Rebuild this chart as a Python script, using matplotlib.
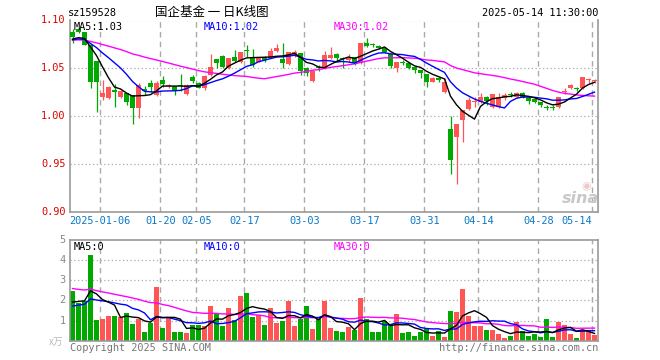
import numpy as np
import pandas as pd
import matplotlib
matplotlib.use("Agg")
import matplotlib.pyplot as plt

# ---------------- data ----------------
opens = [1.0876, 1.0907, 1.0876, 1.0743, 1.0576, 1.0204, 1.0193, 1.0273, 1.0204, 1.0239,
         1.0221, 1.0082, 1.0284, 1.0343, 1.0221, 1.0378, 1.0312, 1.0315, 1.0318, 1.0232,
         1.0406, 1.0343, 1.0294, 1.0430, 1.0597, 1.0632, 1.0500, 1.0615, 1.0569, 1.0685,
         1.0621, 1.0569, 1.0621, 1.0611, 1.0681, 1.0594, 1.0542, 1.0639, 1.0657, 1.0506,
         1.0367, 1.0510, 1.0500, 1.0604, 1.0646, 1.0607, 1.0587, 1.0615, 1.0552, 1.0761,
         1.0746, 1.0736, 1.0715, 1.0646, 1.0506, 1.0566, 1.0552, 1.0517, 1.0482, 1.0437,
         1.0360, 1.0402, 1.0256, 0.9866, 0.9786, 0.9960, 1.0072, 1.0150, 1.0151, 1.0204,
         1.0099, 1.0099, 1.0193, 1.0232, 1.0204, 1.0239, 1.0193, 1.0176, 1.0145, 1.0092,
         1.0092, 1.0093, 1.0253, 1.0297, 1.0290, 1.0291, 1.0375, 1.0372]
closes = [1.0830, 1.0876, 1.0743, 1.0360, 1.0360, 1.0239, 1.0308, 1.0256, 1.0263, 1.0145,
          1.0082, 1.0326, 1.0266, 1.0308, 1.0343, 1.0333, 1.0326, 1.0266, 1.0312, 1.0326,
          1.0367, 1.0300, 1.0420, 1.0517, 1.0558, 1.0517, 1.0604, 1.0579, 1.0667, 1.0678,
          1.0534, 1.0615, 1.0587, 1.0681, 1.0715, 1.0552, 1.0667, 1.0673, 1.0472, 1.0448,
          1.0475, 1.0503, 1.0639, 1.0639, 1.0604, 1.0601, 1.0611, 1.0558, 1.0761, 1.0736,
          1.0740, 1.0709, 1.0673, 1.0527, 1.0563, 1.0560, 1.0500, 1.0482, 1.0448, 1.0360,
          1.0402, 1.0378, 1.0360, 0.9543, 0.9915, 1.0065, 1.0169, 1.0160, 1.0204, 1.0159,
          1.0229, 1.0204, 1.0221, 1.0226, 1.0239, 1.0193, 1.0162, 1.0145, 1.0117, 1.0086,
          1.0086, 1.0197, 1.0259, 1.0326, 1.0284, 1.0406, 1.0381, 1.0378]
highs = [1.0907, 1.0925, 1.0880, 1.0750, 1.0580, 1.0378, 1.0315, 1.0333, 1.0270, 1.0245,
         1.0225, 1.0343, 1.0318, 1.0378, 1.0367, 1.0423, 1.0333, 1.0320, 1.0437, 1.0333,
         1.0430, 1.0360, 1.0430, 1.0646, 1.0600, 1.0635, 1.0610, 1.0691, 1.0672, 1.0743,
         1.0701, 1.0620, 1.0625, 1.0709, 1.0751, 1.0761, 1.0672, 1.0691, 1.0662, 1.0517,
         1.0480, 1.0534, 1.0681, 1.0725, 1.0657, 1.0621, 1.0646, 1.0620, 1.0765, 1.0813,
         1.0761, 1.0743, 1.0725, 1.0650, 1.0567, 1.0587, 1.0556, 1.0520, 1.0486, 1.0440,
         1.0406, 1.0406, 1.0396, 1.0002, 0.9920, 1.0070, 1.0204, 1.0204, 1.0239, 1.0210,
         1.0235, 1.0240, 1.0239, 1.0250, 1.0250, 1.0250, 1.0197, 1.0187, 1.0150, 1.0117,
         1.0117, 1.0204, 1.0291, 1.0336, 1.0308, 1.0410, 1.0402, 1.0388]
lows = [1.0760, 1.0870, 1.0740, 1.0291, 1.0047, 1.0169, 1.0185, 1.0099, 1.0195, 1.0117,
        0.9915, 0.9978, 1.0221, 1.0256, 1.0214, 1.0308, 1.0291, 1.0221, 1.0266, 1.0225,
        1.0343, 1.0291, 1.0273, 1.0423, 1.0500, 1.0500, 1.0495, 1.0569, 1.0560, 1.0621,
        1.0517, 1.0563, 1.0569, 1.0604, 1.0673, 1.0500, 1.0538, 1.0621, 1.0430, 1.0423,
        1.0360, 1.0472, 1.0490, 1.0597, 1.0569, 1.0500, 1.0569, 1.0534, 1.0548, 1.0725,
        1.0725, 1.0701, 1.0657, 1.0500, 1.0465, 1.0534, 1.0490, 1.0448, 1.0402, 1.0308,
        1.0356, 1.0354, 1.0245, 0.9397, 0.9292, 0.9734, 1.0065, 1.0099, 1.0135, 1.0117,
        1.0082, 1.0090, 1.0166, 1.0204, 1.0195, 1.0187, 1.0124, 1.0135, 1.0099, 1.0065,
        1.0065, 1.0082, 1.0229, 1.0284, 1.0263, 1.0281, 1.0343, 1.0343]
volumes = [2.48, 1.87, 1.95, 4.28, 1.03, 1.08, 1.23, 1.23, 1.20, 1.38,
           0.83, 1.08, 0.43, 0.88, 2.68, 0.63, 1.17, 0.43, 0.43, 0.38,
           0.78, 0.78, 0.73, 1.73, 1.38, 0.73, 1.63, 1.03, 2.23, 2.38,
           1.18, 1.28, 0.78, 1.63, 0.88, 0.98, 1.98, 0.73, 1.08, 1.73,
           0.58, 1.08, 1.98, 0.63, 0.48, 0.43, 0.68, 0.53, 2.13, 1.08,
           0.43, 0.43, 0.98, 0.83, 1.33, 0.38, 0.43, 0.23, 0.43, 0.58,
           0.23, 0.48, 0.18, 1.48, 1.43, 2.58, 1.23, 0.73, 0.73, 0.53,
           0.53, 0.33, 0.13, 0.23, 0.93, 0.48, 0.23, 0.33, 0.18, 1.08,
           0.18, 0.93, 0.78, 0.33, 0.13, 0.53, 0.53, 0.28]
# sessions before the visible window (only feed the moving averages)
prior_closes = [1.080, 1.079, 1.081, 1.078, 1.080, 1.079, 1.080, 1.078, 1.079, 1.080,
                1.079, 1.080, 1.078, 1.079, 1.080, 1.079, 1.078, 1.080, 1.079, 1.080,
                1.079, 1.080, 1.078, 1.079, 1.080, 1.080, 1.079, 1.080, 1.081]
prior_volumes = [3.1, 2.9, 3.0, 3.2, 3.0, 2.9, 3.1, 3.0, 3.1, 2.9,
                 3.0, 3.2, 3.0, 3.0, 3.1, 2.9, 3.0, 3.1, 3.0, 3.0,
                 1.4, 1.5, 1.6, 1.6, 1.5, 1.7, 1.8, 1.8, 1.8]
tick_idx = [5, 15, 21, 29, 39, 49, 59, 68, 78, 87]
tick_labels = ["2025-01-06", "01-20", "02-05", "02-17", "03-03",
               "03-17", "03-31", "04-14", "04-28", "05-14"]
price_ticks = [0.90, 0.95, 1.00, 1.05, 1.10]
vol_ticks = [1, 2, 3, 4, 5]

# ---------------- styling ----------------
W, H = 660, 360
RED = "#ff5555"
GREEN = "#00a800"
GRID = "#aaaaaa"
SPINE = "#999999"
BLUE_TXT = "#0a78c8"
MONO = "DejaVu Sans Mono"
CJK = ["Noto Sans CJK SC", "DejaVu Sans"]

fig = plt.figure(figsize=(W / 100, H / 100), dpi=100)
fig.patch.set_facecolor("white")


def fx(x):
    return x / W


def fy(y):
    return 1 - y / H


def trunc2(val):
    return f"{np.floor(val * 100) / 100:.2f}"


# axes rectangles (pixels)
L, R = 70, 598
P_TOP, P_BOT = 20.5, 212
V_TOP, V_BOT = 240, 340.7
axp = fig.add_axes([fx(L), fy(P_BOT), fx(R - L), (P_BOT - P_TOP) / H])
axv = fig.add_axes([fx(L), fy(V_BOT), fx(R - L), (V_BOT - V_TOP) / H])

n = len(closes)
x = np.arange(n)
o = np.array(opens)
c = np.array(closes)
h = np.array(highs)
lo = np.array(lows)
v = np.array(volumes)
up = c >= o
cols = np.where(up, RED, GREEN)

xmin = -2.5 / 6
xmax = xmin + (R - L) / 6
bw = 5 / 6

# ---- price panel ----
axp.set_xlim(xmin, xmax)
axp.set_ylim(0.90, 1.10)
for t in price_ticks[1:]:
    axp.axhline(t, color=GRID, lw=0.9, ls=(0, (1, 2)), zorder=0)
for ti in tick_idx:
    axp.axvline(ti - 0.37, color=GRID, lw=1.0, ls=(0, (4, 3)), zorder=0)

axp.vlines(x, lo, h, colors=cols, lw=0.9, zorder=2)
body_lo = np.minimum(o, c)
body_h = np.maximum(np.abs(c - o), 0.0011)
axp.bar(x, body_h, bottom=body_lo, width=bw, color=cols, lw=0, zorder=3)

allc = pd.Series(list(prior_closes) + list(closes))
npri = len(prior_closes)
ma5 = allc.rolling(5, min_periods=1).mean().values[npri:]
ma10 = allc.rolling(10, min_periods=1).mean().values[npri:]
ma30 = allc.rolling(30, min_periods=1).mean().values[npri:]
axp.plot(x, ma30, color="#ff00ff", lw=1.0, zorder=4)
axp.plot(x, ma10, color="#0000ff", lw=1.0, zorder=4)
axp.plot(x, ma5, color="black", lw=1.0, zorder=5)

# ---- volume panel ----
axv.set_xlim(xmin, xmax)
axv.set_ylim(0, 5)
for t in vol_ticks[:-1]:
    axv.axhline(t, color=GRID, lw=0.9, ls=(0, (1, 2)), zorder=0)
for ti in tick_idx:
    axv.axvline(ti - 0.37, color=GRID, lw=1.0, ls=(0, (4, 3)), zorder=0)
axv.bar(x, v, width=bw, color=cols, lw=0, zorder=2)
allv = pd.Series(list(prior_volumes) + list(volumes))
nv = len(prior_volumes)
vma5 = allv.rolling(5, min_periods=1).mean().values[nv:]
vma10 = allv.rolling(10, min_periods=1).mean().values[nv:]
vma30 = allv.rolling(30, min_periods=1).mean().values[nv:]
axv.plot(x, vma30, color="#ff00ff", lw=1.0, zorder=4)
axv.plot(x, vma10, color="#0000ff", lw=1.0, zorder=4)
axv.plot(x, vma5, color="black", lw=1.0, zorder=5)

for ax, top_solid in ((axp, False), (axv, True)):
    ax.set_xticks([])
    ax.set_yticks([])
    for s in ("left", "right", "bottom"):
        ax.spines[s].set_color(SPINE)
        ax.spines[s].set_linewidth(1.2)
    ax.spines["top"].set_visible(top_solid)
    ax.spines["top"].set_color(SPINE)
    ax.spines["top"].set_linewidth(1.2)
    ax.set_facecolor("white")

# ---- texts ----
for t in price_ticks:
    axp.text(-0.008, t, f"{t:.2f}", transform=axp.get_yaxis_transform(),
             ha="right", va="center", color="#e00000", fontsize=7.4, family=MONO)
for t in vol_ticks:
    axv.text(-0.008, t, f"{t}", transform=axv.get_yaxis_transform(),
             ha="right", va="center", color="#888888", fontsize=7.4, family=MONO)
fig.text(fx(56), fy(342), "x万", ha="center", va="center", color="#bbbbbb",
         fontsize=7, family=CJK)

for ti, lab in zip(tick_idx, tick_labels):
    xx = ti - 0.37
    ha = "right" if ti == tick_idx[-1] else "center"
    axp.text(xx, -0.022, lab, transform=axp.get_xaxis_transform(), ha=ha, va="top",
             color=BLUE_TXT, fontsize=7.4, family=MONO)

fig.text(fx(68), fy(12.5), "sz159528", ha="left", va="center", fontsize=7.4,
         family=MONO, color="black")
fig.text(fx(212), fy(12.5), "国企基金 一 日K线图", ha="center", va="center",
         fontsize=9, family=CJK, color="black")
fig.text(fx(598), fy(12.5), "2025-05-14 11:30:00", ha="right", va="center",
         fontsize=7.4, family=MONO, color="black")

fig.text(fx(74), fy(27), f"MA5:{trunc2(ma5[-1])}", ha="left", va="center", fontsize=7.4,
         family=MONO, color="black")
fig.text(fx(204), fy(27), f"MA10:{trunc2(ma10[-1])}", ha="left", va="center", fontsize=7.4,
         family=MONO, color="#0000ff")
fig.text(fx(334), fy(27), f"MA30:{trunc2(ma30[-1])}", ha="left", va="center", fontsize=7.4,
         family=MONO, color="#ff00ff")
fig.text(fx(74), fy(247), "MA5:0", ha="left", va="center", fontsize=7.4,
         family=MONO, color="black")
fig.text(fx(204), fy(247), "MA10:0", ha="left", va="center", fontsize=7.4,
         family=MONO, color="#0000ff")
fig.text(fx(334), fy(247), "MA30:0", ha="left", va="center", fontsize=7.4,
         family=MONO, color="#ff00ff")

fig.text(fx(70), fy(348), "Copyright 2025 SINA.COM", ha="left", va="center",
         fontsize=7.4, family=MONO, color="#777777")
fig.text(fx(598), fy(348), "http://finance.sina.com.cn", ha="right", va="center",
         fontsize=7.4, family=MONO, color="#777777")

# watermark
fig.text(fx(580), fy(198), "sina", ha="center", va="center", fontsize=11.5,
         style="italic", weight="bold", family="DejaVu Sans", color="#c8c8c8")
fig.text(fx(586), fy(186), "◉", ha="center", va="center", fontsize=8,
         family="DejaVu Sans", color="#ebcaca")

fig.savefig("out.png", dpi=100, facecolor="white")
